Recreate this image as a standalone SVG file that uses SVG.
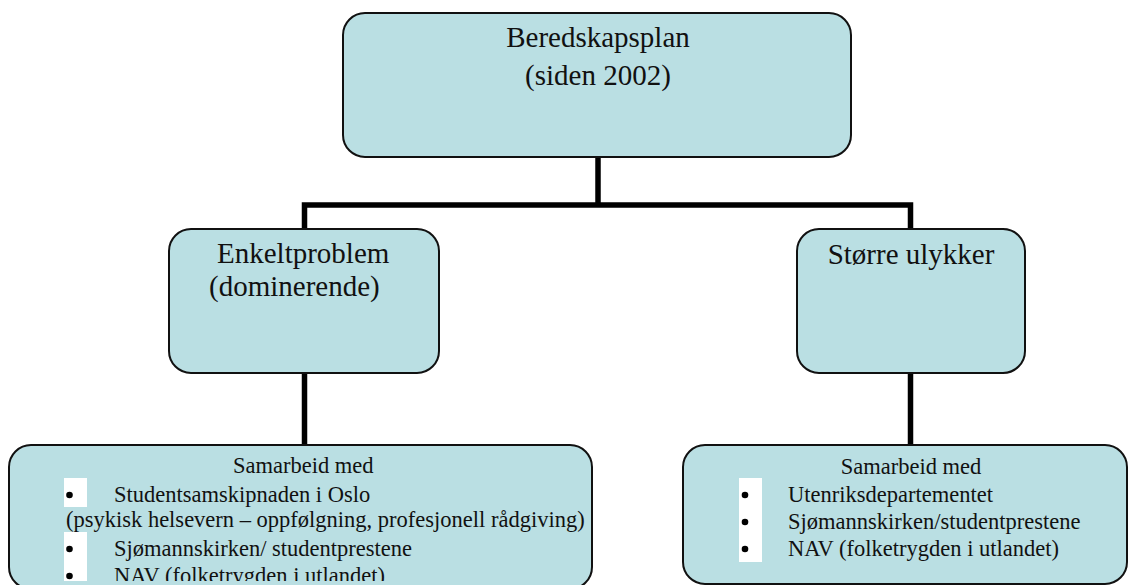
<svg xmlns="http://www.w3.org/2000/svg" width="1129" height="585" viewBox="0 0 1129 585">
<style>
.box{fill:#badfe3;stroke:#111;stroke-width:2}
.conn{fill:none;stroke:#000;stroke-width:5.5;stroke-linejoin:miter;stroke-linecap:butt}
.t{font-family:"Liberation Serif","Times New Roman",serif;fill:#111}
.big{font-size:29px}
.sm{font-size:22.5px}
.bw{fill:#fff}
</style>
<defs>
<clipPath id="clipL"><rect x="0" y="440" width="600" height="141"/></clipPath>
</defs>
<rect width="1129" height="585" fill="#fff"/>
<g id="connectors">
<path class="conn" d="M598,157 V205"/>
<path class="conn" d="M304.5,229 V205 H910.5 V229"/>
<path class="conn" d="M304.5,373 V445"/>
<path class="conn" d="M910.5,373 V445"/>
</g>
<g id="node-beredskapsplan">
<rect class="box" x="343" y="13" width="508" height="144" rx="22"/>
<text class="t big" x="598" y="47" text-anchor="middle">Beredskapsplan</text>
<text class="t big" x="598" y="85" text-anchor="middle">(siden 2002)</text>
</g>
<g id="node-enkeltproblem">
<rect class="box" x="169" y="229" width="270" height="144" rx="22"/>
<text class="t big" x="217" y="263">Enkeltproblem</text>
<text class="t big" x="209" y="296">(dominerende)</text>
</g>
<g id="node-storre">
<rect class="box" x="797" y="229" width="228" height="144" rx="22"/>
<text class="t big" x="911" y="264" text-anchor="middle">Større ulykker</text>
</g>
<g id="node-samarbeid-left">
<rect class="box" x="9" y="445" width="583" height="144" rx="22"/>
<g clip-path="url(#clipL)">
<rect class="bw" x="64" y="478" width="23" height="29"/>
<rect class="bw" x="64" y="532" width="23" height="52"/>
<circle cx="69.5" cy="495" r="3.3" fill="#000"/>
<circle cx="69.5" cy="549" r="3.3" fill="#000"/>
<circle cx="69.5" cy="576" r="3.3" fill="#000"/>
<text class="t sm" x="233" y="473">Samarbeid med</text>
<text class="t sm" x="114" y="502">Studentsamskipnaden i Oslo</text>
<text class="t sm" x="66" y="527">(psykisk helsevern – oppfølgning, profesjonell rådgiving)</text>
<text class="t sm" x="114" y="556">Sjømannskirken/ studentprestene</text>
<text class="t sm" x="114" y="583">NAV (folketrygden i utlandet)</text>
</g>
</g>
<g id="node-samarbeid-right">
<rect class="box" x="683" y="445" width="444" height="139" rx="22"/>
<rect class="bw" x="739" y="478" width="23" height="84"/>
<circle cx="745" cy="495" r="3.3" fill="#000"/>
<circle cx="745" cy="522" r="3.3" fill="#000"/>
<circle cx="745" cy="549" r="3.3" fill="#000"/>
<text class="t sm" x="911" y="474" text-anchor="middle">Samarbeid med</text>
<text class="t sm" x="788" y="502">Utenriksdepartementet</text>
<text class="t sm" x="788" y="529">Sjømannskirken/studentprestene</text>
<text class="t sm" x="788" y="556">NAV (folketrygden i utlandet)</text>
</g>
</svg>
